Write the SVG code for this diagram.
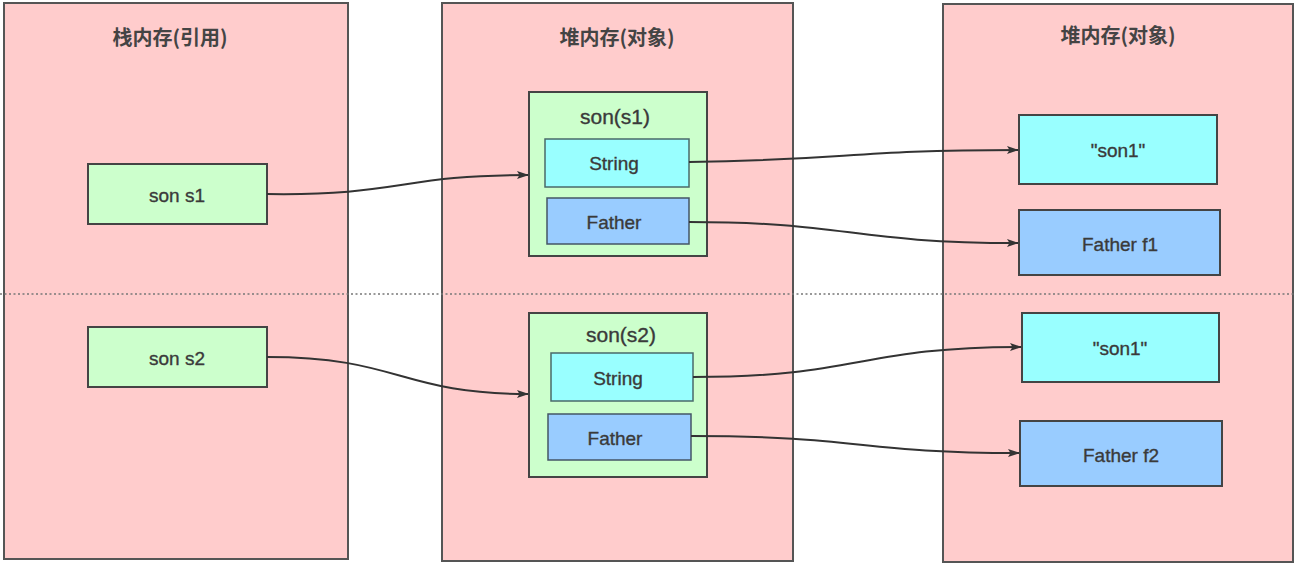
<svg xmlns="http://www.w3.org/2000/svg" width="1294" height="565" viewBox="0 0 1294 565">
<defs>
<style>
.panel{fill:#FFCCCC;stroke:#555;stroke-width:2}
.g{fill:#CCFFCC;stroke:#444;stroke-width:2}
.c{fill:#99FFFF;stroke:#4a6a6a;stroke-width:1.5}
.b{fill:#99CCFF;stroke:#445566;stroke-width:1.5}
.rc{fill:#99FFFF;stroke:#444;stroke-width:2}
.rb{fill:#99CCFF;stroke:#444;stroke-width:2}
text{font-family:"Liberation Sans","Noto Sans CJK SC",sans-serif;fill:#3a3a3a;stroke:#3a3a3a;stroke-width:0.35;text-anchor:middle;dominant-baseline:central}
.t{font-family:"Noto Sans CJK SC","Liberation Sans",sans-serif;font-size:20px;font-weight:bold;fill:#444;stroke:none}
.l{font-size:19px}
.h{font-size:21px}
.conn{fill:none;stroke:#333;stroke-width:2;marker-end:url(#arr)}
</style>
<marker id="arr" viewBox="0 0 12 10" refX="11" refY="5" markerWidth="13" markerHeight="10" markerUnits="userSpaceOnUse" orient="auto">
<path d="M0,1 L12,5 L0,9 L2.5,5 Z" fill="#333"/>
</marker>
</defs>
<rect width="1294" height="565" fill="#fff"/>
<g id="stack">
<rect class="panel" x="4" y="3" width="344" height="556"/>
<text class="t" x="170" y="36">栈内存(引用)</text>
</g>
<g id="heap1">
<rect class="panel" x="442" y="3" width="351" height="558"/>
<text class="t" x="617" y="36">堆内存(对象)</text>
</g>
<g id="heap2">
<rect class="panel" x="943" y="4" width="350" height="558"/>
<text class="t" x="1118" y="34">堆内存(对象)</text>
</g>
<line x1="0" y1="294" x2="1294" y2="294" stroke="#777" stroke-width="1.5" stroke-dasharray="2,2.5"/>
<g id="sonS1">
<rect class="g" x="88" y="164" width="179" height="60"/>
<text class="l" x="177" y="195">son s1</text>
</g>
<g id="sonS2">
<rect class="g" x="88" y="327" width="179" height="60"/>
<text class="l" x="177" y="358">son s2</text>
</g>
<g id="objS1">
<rect class="g" x="529" y="92" width="178" height="164"/>
<text class="h" x="615" y="116">son(s1)</text>
<rect class="c" x="545" y="139" width="144" height="48"/>
<text class="l" x="614" y="163">String</text>
<rect class="b" x="547" y="198" width="142" height="46"/>
<text class="l" x="614" y="222">Father</text>
</g>
<g id="objS2">
<rect class="g" x="529" y="313" width="178" height="164"/>
<text class="h" x="621" y="334">son(s2)</text>
<rect class="c" x="551" y="353" width="142" height="48"/>
<text class="l" x="618" y="378">String</text>
<rect class="b" x="548" y="414" width="143" height="46"/>
<text class="l" x="615" y="438">Father</text>
</g>
<g id="str1">
<rect class="rc" x="1019" y="115" width="198" height="69"/>
<text class="l" x="1118" y="150">"son1"</text>
</g>
<g id="f1">
<rect class="rb" x="1019" y="210" width="201" height="65"/>
<text class="l" x="1120" y="244">Father f1</text>
</g>
<g id="str2">
<rect class="rc" x="1022" y="313" width="197" height="69"/>
<text class="l" x="1120" y="348">"son1"</text>
</g>
<g id="f2">
<rect class="rb" x="1020" y="421" width="202" height="65"/>
<text class="l" x="1121" y="455">Father f2</text>
</g>
<g id="connectors">
<path class="conn" d="M267,194 C400,196 400,175 528,175"/>
<path class="conn" d="M689,162 C850,160 850,150 1018,150"/>
<path class="conn" d="M689,222 C850,222 850,243 1018,243"/>
<path class="conn" d="M267,357 C400,357 400,394 528,394"/>
<path class="conn" d="M693,377 C860,377 860,347 1021,347"/>
<path class="conn" d="M691,436 C860,436 860,453 1019,453"/>
</g>
</svg>
